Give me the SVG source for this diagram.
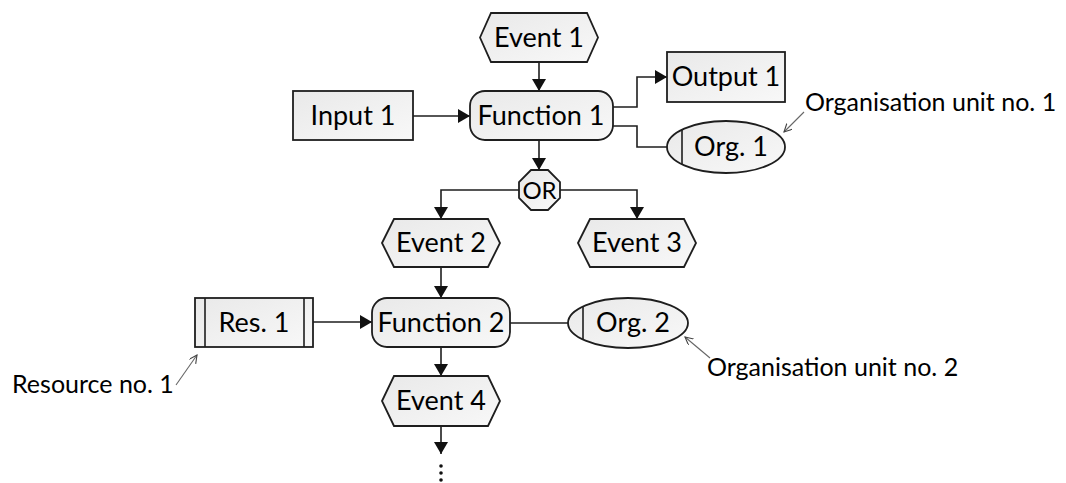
<svg xmlns="http://www.w3.org/2000/svg" width="1066" height="483" viewBox="0 0 1066 483">
<style>
.node{fill:url(#g);stroke:#1e1e1e;stroke-width:1.8}
.lbl{font-family:Lato,"Liberation Sans",sans-serif;font-size:27px;fill:#000;text-anchor:middle}
.ann{font-family:Lato,"Liberation Sans",sans-serif;font-size:25px;fill:#000}
.con{fill:none;stroke:#1e1e1e;stroke-width:1.6}
.pt{fill:none;stroke:#666;stroke-width:1.1}
.thin{stroke:#1e1e1e;stroke-width:1.6}
</style>
<defs>
<linearGradient id="g" x1="0" y1="0" x2="1" y2="1">
<stop offset="0" stop-color="#e9e9e9"/>
<stop offset="1" stop-color="#f8f8f8"/>
</linearGradient>
<marker id="ah" markerUnits="userSpaceOnUse" markerWidth="13" markerHeight="14" refX="12" refY="7" orient="auto">
<path d="M0,0 L12,7 L0,14 z" fill="#111"/>
</marker>
<marker id="oa" markerUnits="userSpaceOnUse" markerWidth="10" markerHeight="10" refX="8" refY="4" orient="auto">
<path d="M0,0 L8,4 L0,8" fill="none" stroke="#444" stroke-width="1.1"/>
</marker>
</defs>

<g id="connectors">
<path class="con" d="M539,62 V91" marker-end="url(#ah)"/>
<path class="con" d="M413,116 H470" marker-end="url(#ah)"/>
<path class="con" d="M613,107 H637 V77 H667" marker-end="url(#ah)"/>
<path class="con" d="M613,126 H637 V147 H667"/>
<path class="con" d="M539,140 V170" marker-end="url(#ah)"/>
<path class="con" d="M519,190 H441 V219" marker-end="url(#ah)"/>
<path class="con" d="M560,190 H637 V219" marker-end="url(#ah)"/>
<path class="con" d="M441,268 V298" marker-end="url(#ah)"/>
<path class="con" d="M313,322 H372" marker-end="url(#ah)"/>
<path class="con" d="M510,323 H568"/>
<path class="con" d="M441,347 V376" marker-end="url(#ah)"/>
<path class="con" d="M441,426 V454" marker-end="url(#ah)"/>
<path class="pt" d="M804,112 L784,132" marker-end="url(#oa)"/>
<path class="pt" d="M710,358 L685,337" marker-end="url(#oa)"/>
<path class="pt" d="M176,385 L197,355" marker-end="url(#oa)"/>
</g>

<g id="continuation">
<circle cx="441" cy="466" r="1.8" fill="#111"/>
<circle cx="441" cy="473" r="1.8" fill="#111"/>
<circle cx="441" cy="480" r="1.8" fill="#111"/>
</g>

<g id="event1">
<polygon class="node" points="480,37.5 491,13 587,13 598,37.5 587,62 491,62"/>
<text class="lbl" x="539" y="47">Event 1</text>
</g>
<g id="input1">
<rect class="node" x="293" y="91" width="120" height="49"/>
<text class="lbl" x="353" y="125">Input 1</text>
</g>
<g id="function1">
<rect class="node" x="470" y="91" width="143" height="49" rx="15"/>
<text class="lbl" x="541" y="125">Function 1</text>
</g>
<g id="output1">
<rect class="node" x="667" y="52" width="118" height="50"/>
<text class="lbl" x="726" y="86">Output 1</text>
</g>
<g id="org1">
<ellipse class="node" cx="726" cy="147" rx="59" ry="26"/>
<line class="thin" x1="682" y1="130" x2="682" y2="164"/>
<text class="lbl" x="731" y="156">Org. 1</text>
</g>
<g id="orgunit1">
<text class="ann" x="805" y="111">Organisation unit no. 1</text>
</g>
<g id="or">
<polygon class="node" points="531,170 548,170 560,182 560,198 548,210 531,210 519,198 519,182"/>
<text class="lbl" x="539.5" y="198.5" style="font-size:24px">OR</text>
</g>
<g id="event2">
<polygon class="node" points="382,243 394,219 488,219 500,243 488,267 394,267"/>
<text class="lbl" x="441" y="252">Event 2</text>
</g>
<g id="event3">
<polygon class="node" points="578,243 590,219 684,219 696,243 684,267 590,267"/>
<text class="lbl" x="637" y="252">Event 3</text>
</g>
<g id="res1">
<rect class="node" x="195" y="298" width="118" height="49"/>
<line class="thin" x1="205" y1="298" x2="205" y2="347"/>
<line class="thin" x1="304" y1="298" x2="304" y2="347"/>
<text class="lbl" x="254" y="332">Res. 1</text>
</g>
<g id="function2">
<rect class="node" x="372" y="298" width="138" height="49" rx="15"/>
<text class="lbl" x="441" y="332">Function 2</text>
</g>
<g id="org2">
<ellipse class="node" cx="628" cy="323" rx="60" ry="25"/>
<line class="thin" x1="583" y1="306.5" x2="583" y2="339.5"/>
<text class="lbl" x="633" y="332">Org. 2</text>
</g>
<g id="orgunit2">
<text class="ann" x="707" y="376">Organisation unit no. 2</text>
</g>
<g id="resource1">
<text class="ann" x="12" y="393">Resource no. 1</text>
</g>
<g id="event4">
<polygon class="node" points="382,401 394,376 488,376 500,401 488,426 394,426"/>
<text class="lbl" x="441" y="410">Event 4</text>
</g>
</svg>
